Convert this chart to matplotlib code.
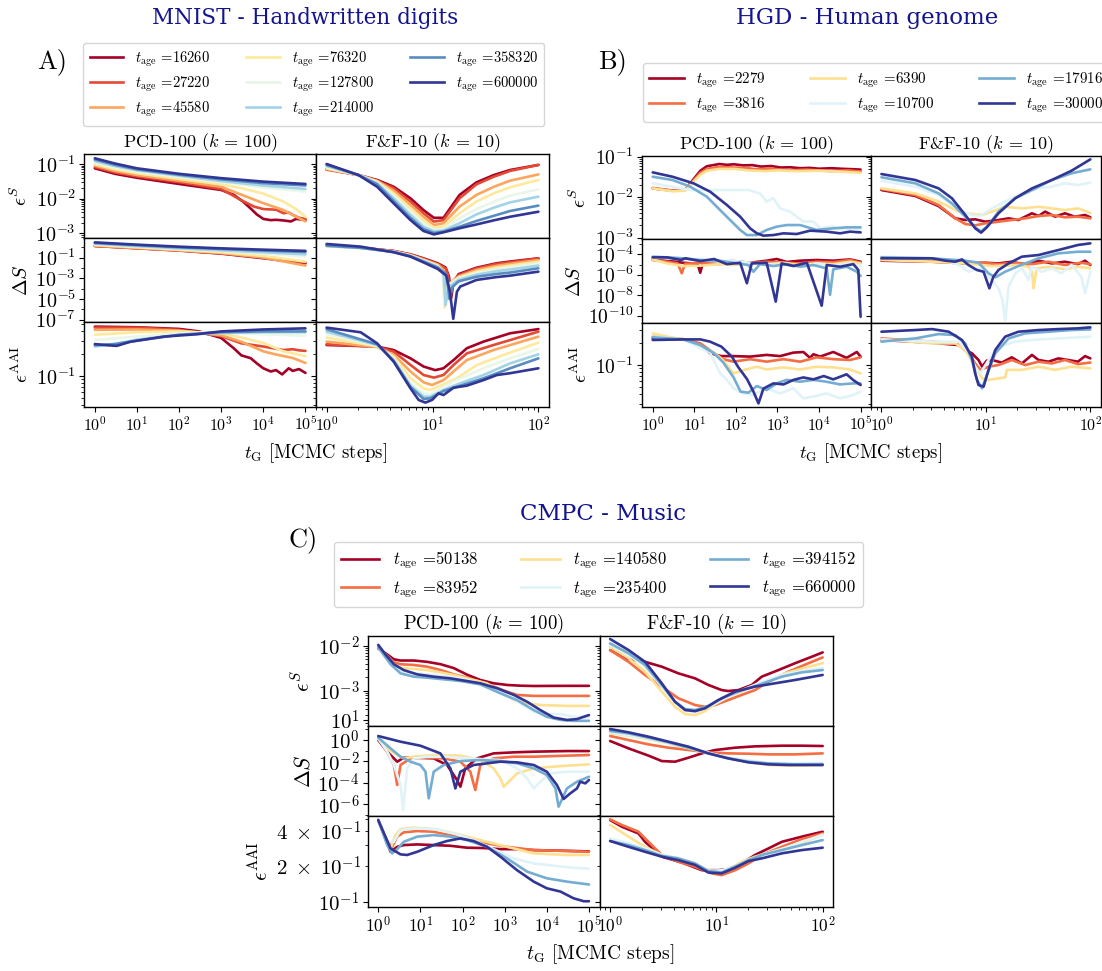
import numpy as np
import matplotlib
matplotlib.use("Agg")
import matplotlib.pyplot as plt
from matplotlib import ticker
from matplotlib.lines import Line2D
from matplotlib.transforms import Affine2D

plt.rcParams.update({
    "font.family": "serif",
    "font.serif": ["cmr10"],
    "mathtext.fontset": "cm",
    "axes.unicode_minus": False,
    "axes.formatter.use_mathtext": True,
})

W, H = 1102, 971
LW = 1.9

# ============================ MNIST ============================
mnist_ages = [16260, 27220, 45580, 76320, 127800, 214000, 358320, 600000]

# PCD-100: (t_G, value) pairs, one list per t_age
mnist_pcd_eS = [
    [(1, 7.5e-2), (3, 5.2e-2), (10, 4.0e-2), (100, 2.65e-2), (1e3, 1.78e-2), (2e3, 1.28e-2), (3.3e3, 8.2e-3),
     (5e3, 5.2e-3), (7e3, 3.5e-3), (1e4, 2.6e-3), (1.5e4, 2.4e-3), (2e4, 2.45e-3), (3e4, 2.35e-3),
     (4.5e4, 2.2e-3), (6e4, 2.6e-3), (8e4, 2.5e-3), (1e5, 2.4e-3)],
    [(1, 8.2e-2), (3, 5.7e-2), (10, 4.4e-2), (100, 3.0e-2), (1e3, 1.9e-2), (3e3, 9.0e-3), (6e3, 5.9e-3),
     (1e4, 5.0e-3), (2e4, 4.8e-3), (3e4, 3.8e-3), (4e4, 4.0e-3), (5e4, 3.4e-3), (7e4, 2.8e-3), (1e5, 2.6e-3)],
    [(1, 9.0e-2), (3, 6.3e-2), (10, 4.8e-2), (100, 3.3e-2), (1e3, 2.2e-2), (3e3, 1.3e-2), (1e4, 7.4e-3),
     (3e4, 4.7e-3), (6e4, 3.0e-3), (1e5, 2.2e-3)],
    [(1, 9.8e-2), (3, 7.0e-2), (10, 5.4e-2), (100, 3.7e-2), (1e3, 2.6e-2), (3e3, 2.0e-2), (1e4, 1.4e-2),
     (3e4, 8.2e-3), (6e4, 5.0e-3), (1e5, 3.0e-3)],
    [(1, 0.109), (3, 7.8e-2), (10, 6.0e-2), (100, 4.2e-2), (1e3, 3.0e-2), (1e4, 2.1e-2), (1e5, 1.6e-2)],
    [(1, 0.122), (3, 8.7e-2), (10, 6.6e-2), (100, 4.6e-2), (1e3, 3.2e-2), (1e4, 2.4e-2), (1e5, 1.9e-2)],
    [(1, 0.135), (3, 9.5e-2), (10, 7.0e-2), (100, 4.9e-2), (1e3, 3.6e-2), (1e4, 2.8e-2), (1e5, 2.4e-2)],
    [(1, 0.146), (3, 0.103), (10, 7.5e-2), (100, 5.2e-2), (1e3, 3.9e-2), (1e4, 3.1e-2), (1e5, 2.65e-2)],
]
mnist_pcd_dS = [
    [(1, 1.35), (10, 0.8), (100, 0.48), (1e3, 0.245), (1e4, 0.087), (3e4, 0.05), (1e5, 0.028)],
    [(1, 1.35), (10, 0.83), (100, 0.51), (1e3, 0.26), (1e4, 0.107), (1e5, 0.035)],
    [(1, 1.45), (10, 0.85), (100, 0.51), (1e3, 0.28), (1e4, 0.10), (1e5, 0.017)],
    [(1, 1.7), (10, 1.0), (100, 0.59), (1e3, 0.33), (1e4, 0.145), (1e5, 0.041)],
    [(1, 1.95), (10, 1.15), (100, 0.69), (1e3, 0.45), (1e4, 0.25), (1e5, 0.135)],
    [(1, 2.2), (10, 1.3), (100, 0.79), (1e3, 0.51), (1e4, 0.33), (1e5, 0.21)],
    [(1, 2.6), (10, 1.6), (100, 1.0), (1e3, 0.69), (1e4, 0.48), (1e5, 0.35)],
    [(1, 3.0), (10, 1.8), (100, 1.15), (1e3, 0.79), (1e4, 0.59), (1e5, 0.45)],
]
mnist_pcd_aai = [
    [(1, 0.464), (10, 0.455), (100, 0.432), (300, 0.40), (1e3, 0.326), (2e3, 0.236), (3e3, 0.19), (5e3, 0.174),
     (7e3, 0.148), (1e4, 0.127), (1.5e4, 0.115), (2e4, 0.12), (2.8e4, 0.105), (4e4, 0.127), (5e4, 0.117),
     (7e4, 0.124), (1e5, 0.11)],
    [(1, 0.45), (10, 0.45), (100, 0.42), (1e3, 0.345), (3e3, 0.276), (1e4, 0.25), (3e4, 0.224), (5e4, 0.23),
     (7e4, 0.222), (1e5, 0.218)],
    [(1, 0.42), (10, 0.425), (100, 0.41), (1e3, 0.355), (3e3, 0.29), (1e4, 0.215), (2e4, 0.195), (5e4, 0.175),
     (1e5, 0.15)],
    [(1, 0.36), (10, 0.39), (100, 0.40), (1e3, 0.38), (3e3, 0.33), (1e4, 0.28), (3e4, 0.215), (1e5, 0.186)],
    [(1, 0.306), (10, 0.34), (100, 0.377), (1e3, 0.39), (1e4, 0.366), (1e5, 0.35)],
    [(1, 0.25), (3, 0.27), (10, 0.31), (100, 0.36), (1e3, 0.38), (1e4, 0.39), (1e5, 0.39)],
    [(1, 0.26), (3, 0.27), (10, 0.30), (100, 0.36), (1e3, 0.39), (1e4, 0.40), (1e5, 0.40)],
    [(1, 0.27), (2, 0.26), (3.3, 0.255), (7, 0.29), (43, 0.34), (260, 0.366), (1e3, 0.40), (1e4, 0.425),
     (1e5, 0.44)],
]

# F&F-10
mnist_ff_eS_t = [1, 2, 3, 4.3, 6.2, 8.2, 10.3, 12.7, 18, 26, 38, 54, 100]
mnist_ff_eS = [
    [0.072, 0.048, 0.0346, 0.022, 0.0102, 0.0047, 0.0028, 0.0028, 0.0128, 0.0295, 0.048, 0.067, 0.094],
    [0.0687, 0.048, 0.033, 0.020, 0.0082, 0.0038, 0.00218, 0.0024, 0.0102, 0.0259, 0.043, 0.063, 0.094],
    [0.0718, 0.048, 0.0325, 0.017, 0.0066, 0.003, 0.00174, 0.00195, 0.0059, 0.0128, 0.022, 0.033, 0.05],
    [0.075, 0.048, 0.031, 0.0143, 0.0052, 0.0024, 0.00145, 0.00155, 0.0038, 0.0082, 0.0143, 0.0212, 0.0346],
    [0.080, 0.048, 0.0295, 0.0122, 0.0042, 0.00195, 0.00128, 0.00133, 0.0027, 0.005, 0.0082, 0.0122, 0.0186],
    [0.0875, 0.048, 0.0277, 0.0102, 0.0034, 0.00155, 0.00114, 0.0012, 0.00195, 0.0035, 0.0055, 0.0078, 0.0114],
    [0.094, 0.048, 0.0259, 0.0086, 0.0028, 0.00133, 0.00102, 0.00112, 0.00155, 0.00227, 0.0032, 0.0044, 0.0063],
    [0.1, 0.048, 0.022, 0.0073, 0.0024, 0.00117, 0.00093, 0.00107, 0.0014, 0.0018, 0.00237, 0.003, 0.0042],
]
mnist_ff_dS = [
    [(1, 1.45), (2.1, 0.93), (4.3, 0.44), (6.2, 0.21), (8.2, 0.086), (11.2, 0.028), (13.3, 0.011), (14.3, 1.5e-3),
     (15.0, 1.2e-5), (15.7, 3e-4), (17.6, 2.5e-3), (26, 1.05e-2), (40, 2.8e-2), (54, 4.2e-2), (100, 8.6e-2)],
    [(1, 1.4), (2.1, 0.9), (4.3, 0.42), (6.2, 0.19), (8.2, 0.075), (11.2, 0.024), (13.3, 0.009), (14.0, 2e-3),
     (14.6, 2.5e-5), (15.3, 4e-4), (17.6, 2.0e-3), (26, 9e-3), (40, 2.4e-2), (54, 3.6e-2), (100, 8.0e-2)],
    [(1, 1.35), (2.1, 0.88), (4.3, 0.4), (6.2, 0.18), (8.2, 0.066), (11.2, 0.021), (12.8, 0.006), (13.8, 1.0e-5),
     (14.6, 3e-4), (17.6, 1.5e-3), (26, 6.5e-3), (40, 1.6e-2), (54, 2.5e-2), (100, 5.9e-2)],
    [(1, 1.3), (2.1, 0.85), (4.3, 0.38), (6.2, 0.165), (8.2, 0.058), (11.2, 0.017), (12.5, 0.004), (13.0, 1.5e-6),
     (13.8, 2e-4), (17.6, 1.2e-3), (26, 4.5e-3), (40, 1.1e-2), (54, 1.7e-2), (100, 4.1e-2)],
    [(1, 1.3), (2.1, 0.84), (4.3, 0.37), (6.2, 0.155), (8.2, 0.052), (11.2, 0.015), (12.5, 0.0035), (13.0, 4e-6),
     (13.8, 1.5e-4), (17.6, 1.0e-3), (26, 3.2e-3), (40, 7.5e-3), (54, 1.15e-2), (100, 2.8e-2)],
    [(1, 1.35), (2.1, 0.85), (4.3, 0.36), (6.2, 0.145), (8.2, 0.047), (11.2, 0.013), (12.7, 0.003), (13.3, 2.6e-6),
     (14.0, 1.2e-4), (17.6, 7e-4), (26, 2.2e-3), (40, 4.8e-3), (54, 7e-3), (100, 1.68e-2)],
    [(1, 1.45), (2.1, 0.9), (4.3, 0.35), (6.2, 0.135), (8.2, 0.042), (11.2, 0.011), (13.5, 0.0025), (14.5, 1e-5),
     (15.5, 1.5e-4), (17.6, 5e-4), (26, 1.4e-3), (40, 2.6e-3), (54, 3.6e-3), (100, 9.3e-3)],
    [(1, 2.1), (2.1, 1.16), (4.3, 0.33), (6.2, 0.125), (8.2, 0.035), (11.2, 0.008), (13.5, 0.0018), (14.6, 5e-5),
     (15.7, 1.2e-7), (17.0, 5e-5), (18.3, 1.6e-4), (26, 6.9e-4), (40, 1.3e-3), (54, 1.8e-3), (100, 4.4e-3)],
]
mnist_ff_aai = [
    [(1, 0.262), (2.1, 0.254), (3, 0.249), (4.3, 0.224), (6.2, 0.173), (8.25, 0.134), (10.6, 0.12), (12.7, 0.127),
     (15.8, 0.164), (21.1, 0.237), (30.3, 0.291), (54, 0.377), (100, 0.43)],
    [(1, 0.268), (3, 0.249), (4.3, 0.213), (6.2, 0.141), (8.25, 0.103), (10.3, 0.095), (12.7, 0.103),
     (15.8, 0.141), (21.1, 0.202), (37.7, 0.262), (100, 0.397)],
    [(1, 0.291), (3, 0.246), (4.3, 0.192), (6.2, 0.115), (8.25, 0.082), (9.9, 0.0755), (12.7, 0.088),
     (15.8, 0.115), (21.1, 0.164), (37.7, 0.224), (100, 0.34)],
    [(1, 0.33), (3, 0.251), (4.3, 0.183), (6.2, 0.093), (8.25, 0.068), (9.55, 0.0647), (12.7, 0.077),
     (17, 0.093), (26.3, 0.141), (46.8, 0.192), (100, 0.282)],
    [(1, 0.366), (3, 0.257), (4.3, 0.173), (6.2, 0.080), (8.25, 0.0583), (9.55, 0.0565), (12.7, 0.0718),
     (18.3, 0.093), (30.3, 0.127), (54, 0.173), (100, 0.232)],
    [(1, 0.397), (3, 0.262), (4.3, 0.164), (6.2, 0.074), (8.25, 0.0526), (9.55, 0.0526), (12.7, 0.0647),
     (18.3, 0.080), (30.3, 0.103), (54, 0.148), (100, 0.196)],
    [(1, 0.428), (3, 0.268), (4.3, 0.16), (6.2, 0.071), (8.25, 0.0489), (9.55, 0.05), (12.7, 0.0627),
     (18.3, 0.074), (30.3, 0.093), (54, 0.127), (100, 0.173)],
    [(1, 0.45), (2.1, 0.389), (3, 0.276), (4.3, 0.156), (6.2, 0.068), (7.4, 0.0474), (8.56, 0.0437), (9.9, 0.0474),
     (11.4, 0.0583), (12.7, 0.0553), (15.8, 0.0695), (21.1, 0.074), (30.3, 0.088), (40.5, 0.103), (54, 0.109),
     (100, 0.127)],
]

# ============================ HGD ============================
hgd_ages = [2279, 3816, 6390, 10700, 17916, 30000]

hgd_pcd_eS = [
    [(1, 0.0165), (3, 0.0145), (6, 0.015), (8, 0.022), (14, 0.045), (20, 0.058), (40, 0.066), (60, 0.063),
     (90, 0.065), (150, 0.061), (250, 0.062), (400, 0.057), (700, 0.059), (1200, 0.054), (2000, 0.055),
     (3500, 0.052), (6000, 0.053), (1e4, 0.0505), (2e4, 0.052), (4e4, 0.05), (7e4, 0.049), (1e5, 0.048)],
    [(1, 0.017), (3, 0.0145), (6, 0.015), (8, 0.021), (14, 0.040), (20, 0.050), (40, 0.056), (90, 0.054),
     (200, 0.052), (300, 0.049), (500, 0.050), (700, 0.051), (1000, 0.049), (2000, 0.046), (3000, 0.047),
     (5000, 0.048), (1e4, 0.046), (2e4, 0.044), (3e4, 0.045), (5e4, 0.046), (1e5, 0.043)],
    [(1, 0.0165), (3, 0.014), (6, 0.0145), (8, 0.020), (14, 0.036), (20, 0.045), (40, 0.050), (90, 0.050),
     (200, 0.046), (500, 0.044), (1000, 0.046), (3000, 0.044), (1e4, 0.045), (3e4, 0.043), (1e5, 0.040)],
    [(1, 0.022), (3, 0.018), (8, 0.015), (30, 0.015), (100, 0.015), (200, 0.015), (380, 0.0124), (550, 0.0078),
     (800, 0.0094), (1160, 0.0053), (2000, 0.0044), (2900, 0.0033), (4200, 0.0025), (7300, 0.0025),
     (1.06e4, 0.0017), (2.2e4, 0.0019), (3.2e4, 0.0016), (6.7e4, 0.0017), (1e5, 0.0016)],
    [(1, 0.032), (3, 0.0266), (8, 0.0182), (20, 0.0103), (50, 0.004), (127, 0.00155), (184, 0.00116),
     (320, 0.00116), (550, 0.00155), (960, 0.00187), (1680, 0.00205), (3500, 0.00205), (8800, 0.00155),
     (2.2e4, 0.0017), (4.6e4, 0.0018), (1e5, 0.0018)],
    [(1, 0.041), (3, 0.032), (9.6, 0.022), (24, 0.0137), (61, 0.0064), (127, 0.0033), (220, 0.0017),
     (320, 0.00128), (460, 0.00112), (800, 0.00116), (1400, 0.00128), (2900, 0.00123), (6100, 0.00149),
     (1.5e4, 0.00141), (3.2e4, 0.00128), (5.6e4, 0.00141), (1e5, 0.00135)],
]
hgd_pcd_dS = [
    [(1, 3.5e-5), (2.2, 2.4e-5), (5.5, 1.5e-5), (12, 1.2e-5), (13.9, 1.6e-6), (16, 1.3e-5), (40, 1.9e-5),
     (88, 2.2e-5), (220, 1.5e-5), (550, 2.4e-5), (960, 3.5e-5), (1680, 1.8e-5), (3500, 2.4e-5), (8800, 2.8e-5),
     (2.2e4, 2.4e-5), (5.6e4, 3.2e-5), (1e5, 1.9e-5)],
    [(1, 2.8e-5), (2.2, 1.9e-5), (4, 1.3e-5), (5, 1.4e-6), (6, 1.2e-5), (14, 1.5e-5), (40, 1.1e-5), (88, 1.9e-5),
     (220, 1.3e-5), (550, 1.9e-5), (1400, 1.5e-5), (3500, 1.3e-5), (8800, 1.9e-5), (2.2e4, 1.7e-5),
     (5.6e4, 2.8e-5), (1e5, 1.5e-5)],
    [(1, 3.2e-5), (2.2, 1.3e-5), (5.5, 7.2e-6), (14, 7.8e-6), (40, 1.1e-5), (88, 9e-6), (220, 1.3e-5),
     (550, 1.1e-5), (1400, 1.5e-5), (3500, 9e-6), (8800, 1.3e-5), (2.2e4, 1.1e-5), (5.6e4, 1.9e-5),
     (1e5, 1.3e-5)],
    [(1, 5.1e-5), (2.2, 4.1e-5), (5.5, 3.5e-5), (14, 2.8e-5), (40, 1.9e-5), (88, 2.4e-5), (220, 1.5e-5),
     (550, 1.1e-5), (1400, 9e-6), (3500, 7e-6), (8800, 1.3e-5), (2.2e4, 8e-6), (5.6e4, 1.3e-5), (1e5, 7e-6)],
    [(1, 5.9e-5), (2.2, 5.1e-5), (5.5, 4.1e-5), (14, 2.8e-5), (40, 2.4e-5), (88, 1.5e-5), (200, 9e-6),
     (265, 2.0e-6), (380, 1.1e-5), (800, 7.2e-6), (1680, 1.1e-5), (3500, 6.2e-6), (7300, 9e-6), (1.53e4, 4.3e-6),
     (1.84e4, 1.1e-8), (2.2e4, 3.4e-6), (4.6e4, 6.2e-6), (8.1e4, 2.0e-6), (1e5, 7.6e-7)],
    [(1, 5.1e-5), (2.2, 5.1e-5), (4.8, 2.8e-5), (6.1, 4.1e-5), (14, 2.2e-5), (30, 3.5e-5), (61, 1.1e-5),
     (127, 1.5e-5), (184, 1.5e-7), (240, 1.3e-5), (550, 1.5e-5), (910, 2.4e-9), (1260, 1.3e-5), (2430, 7.2e-6),
     (5100, 1.5e-5), (1.16e4, 9.6e-10), (1.53e4, 9.1e-6), (3.2e4, 6.2e-6), (6.7e4, 1.1e-5), (8.8e4, 3.0e-6),
     (1e5, 8e-11)],
]
hgd_pcd_aai = [
    [(1, 0.229), (5.5, 0.222), (14, 0.192), (24, 0.144), (45, 0.132), (88, 0.132), (220, 0.13), (550, 0.137),
     (1160, 0.132), (2400, 0.147), (4200, 0.15), (6100, 0.125), (7300, 0.14), (1.06e4, 0.13), (2.2e4, 0.15),
     (4.6e4, 0.125), (8.1e4, 0.15), (1e5, 0.13)],
    [(1, 0.242), (5.5, 0.224), (14, 0.196), (30, 0.144), (50, 0.12), (88, 0.111), (220, 0.12), (550, 0.111),
     (1400, 0.12), (3500, 0.111), (8800, 0.127), (2.2e4, 0.12), (5.6e4, 0.117), (1e5, 0.127)],
    [(1, 0.268), (2.2, 0.242), (5.5, 0.222), (14, 0.177), (30, 0.147), (50, 0.115), (88, 0.077), (160, 0.086),
     (320, 0.095), (550, 0.087), (1400, 0.093), (3500, 0.087), (8800, 0.095), (2.2e4, 0.093), (5.6e4, 0.087),
     (1e5, 0.077)],
    [(1, 0.242), (5.5, 0.222), (14, 0.168), (24, 0.147), (42, 0.077), (61, 0.063), (88, 0.0484), (150, 0.0414),
     (260, 0.0394), (550, 0.0484), (1160, 0.0414), (2400, 0.0484), (4200, 0.0355), (7300, 0.0374),
     (1.5e4, 0.0414), (3.2e4, 0.0355), (6.7e4, 0.0394), (1e5, 0.0437)],
    [(1, 0.237), (5.5, 0.222), (14, 0.186), (30, 0.144), (50, 0.108), (88, 0.068), (130, 0.0437), (200, 0.0423),
     (320, 0.052), (550, 0.046), (960, 0.0565), (1680, 0.063), (3500, 0.0595), (7300, 0.063), (1.5e4, 0.0595),
     (3.2e4, 0.0547), (6.7e4, 0.0565), (1e5, 0.0565)],
    [(1, 0.218), (5.5, 0.222), (14, 0.222), (24, 0.207), (45, 0.177), (80, 0.13), (115, 0.093), (184, 0.065),
     (265, 0.0437), (350, 0.0303), (460, 0.048), (800, 0.0565), (1400, 0.0547), (2430, 0.063), (4200, 0.068),
     (7300, 0.064), (1.3e4, 0.071), (2.2e4, 0.064), (4.6e4, 0.075), (6.7e4, 0.0625), (1e5, 0.0537)],
]

hgd_ff_eS = [
    [(1, 0.015), (2.11, 0.0107), (3.53, 0.006), (5.1, 0.003), (6.35, 0.00273), (7.9, 0.00284), (9.85, 0.00248),
     (13.2, 0.00273), (16.5, 0.003), (20.5, 0.00273), (27.6, 0.004), (31.9, 0.00343), (36.9, 0.0044),
     (46, 0.0033), (57, 0.004), (71, 0.0033), (89, 0.00363), (100, 0.00318)],
    [(1, 0.0159), (2.11, 0.0113), (3.53, 0.0064), (5.1, 0.003), (6.35, 0.00217), (7.9, 0.00202), (9.85, 0.00226),
     (13.2, 0.00248), (17.7, 0.00273), (23.8, 0.003), (31.9, 0.00343), (42.8, 0.00363), (57, 0.00318),
     (76, 0.0033), (100, 0.003)],
    [(1, 0.0165), (2.11, 0.0124), (3.53, 0.0078), (5.5, 0.0044), (7.35, 0.00384), (9.2, 0.00363), (11.4, 0.0044),
     (15.3, 0.0058), (22.1, 0.0053), (31.9, 0.0058), (42.8, 0.0053), (57, 0.0048), (76, 0.0053), (100, 0.0041)],
    [(1, 0.0255), (2.11, 0.0182), (3.53, 0.0113), (5.5, 0.0048), (7.35, 0.00363), (8.83, 0.00343), (11.4, 0.0053),
     (15.3, 0.0078), (22.1, 0.0124), (31.9, 0.0165), (42.8, 0.0182), (57, 0.022), (76, 0.020), (100, 0.0228)],
    [(1, 0.031), (2.11, 0.022), (3.53, 0.0124), (4.73, 0.007), (6.35, 0.0033), (7.9, 0.0018), (9.0, 0.00141),
     (10.6, 0.00205), (13.2, 0.0044), (19.1, 0.0094), (27.6, 0.015), (42.8, 0.0266), (66, 0.039), (100, 0.0487)],
    [(1, 0.0373), (2.11, 0.0266), (3.53, 0.0165), (4.73, 0.0094), (6.35, 0.00363), (7.9, 0.0017), (9.0, 0.00133),
     (10.2, 0.0018), (13.2, 0.004), (19.1, 0.0094), (27.6, 0.0165), (42.8, 0.0266), (66, 0.045), (100, 0.086)],
]
hgd_ff_dS = [
    [(1, 2.4e-5), (3.05, 1.9e-5), (6.35, 1.3e-5), (9.85, 1.5e-5), (13.2, 1.3e-5), (17.7, 1.9e-5), (23.8, 9.1e-6),
     (31.9, 2.4e-5), (42.8, 1.3e-5), (57, 1.9e-5), (76, 1.1e-5), (89, 2.4e-5), (100, 9.1e-6)],
    [(1, 3.2e-5), (3.05, 2.4e-5), (6.35, 1.9e-5), (9.2, 1.5e-5), (13.2, 1.1e-5), (19.1, 1.5e-5), (27.6, 1.1e-5),
     (39.7, 1.9e-5), (57, 9.1e-6), (82, 1.5e-5), (100, 1.1e-5)],
    [(1, 2.8e-5), (3.05, 1.9e-5), (6.35, 1.3e-5), (11.4, 7.2e-6), (20.5, 9.1e-6), (25.6, 6.2e-6), (27.6, 2.0e-6),
     (28.6, 4.8e-8), (30.6, 4.3e-6), (39.7, 6.2e-6), (57, 3.4e-6), (76, 6.2e-6), (100, 4.3e-6)],
    [(1, 5.9e-5), (3.05, 4.1e-5), (4.73, 1.9e-5), (5.9, 6.2e-6), (6.8, 2.0e-6), (8.5, 4.3e-6), (9.85, 2.0e-6),
     (11.4, 3.1e-7), (13.2, 4.8e-8), (14.4, 3.5e-9), (15.3, 3.8e-11), (16.5, 6.9e-8), (19.1, 1.4e-6),
     (22.1, 4.3e-6), (25.6, 3.1e-7), (27.6, 6.2e-6), (34.3, 2.0e-6), (42.8, 4.3e-6), (53, 1.4e-6), (66, 9.1e-6),
     (82, 6.6e-7), (89, 1.55e-8), (100, 2.0e-6)],
    [(1, 5.1e-5), (3.05, 4.1e-5), (6.35, 2.4e-5), (8.5, 1.5e-5), (10.6, 1.4e-6), (12.3, 5.7e-7), (15.3, 2.0e-6),
     (20.5, 7.2e-6), (31.9, 4.1e-5), (49.5, 1.25e-4), (76, 1.8e-4), (100, 1.8e-4)],
    [(1, 4.1e-5), (2.11, 4.1e-5), (3.05, 4.1e-5), (4.08, 2.4e-5), (5.1, 1.9e-5), (5.9, 3.2e-5), (6.8, 9.1e-6),
     (8.2, 2.95e-6), (9.5, 2.0e-6), (10.8, 4.8e-8), (11.8, 6.6e-7), (13.2, 2.95e-6), (16.5, 1.3e-5),
     (22.1, 5.9e-5), (31.9, 8.6e-5), (49.5, 2.65e-4), (76, 8.2e-4), (100, 1.19e-3)],
]
hgd_ff_aai = [
    [(1, 0.218), (3.05, 0.2), (5.5, 0.186), (6.35, 0.16), (7.35, 0.144), (8.5, 0.117), (9.2, 0.095), (10.2, 0.115),
     (11.4, 0.117), (14.2, 0.108), (17.7, 0.127), (22.1, 0.105), (27.6, 0.137), (31.9, 0.117), (39.7, 0.111),
     (49.5, 0.123), (61, 0.117), (76, 0.111), (89, 0.132), (100, 0.123)],
    [(1, 0.229), (3.05, 0.207), (5.5, 0.196), (6.8, 0.144), (7.9, 0.105), (8.83, 0.086), (10.6, 0.095),
     (13.2, 0.1), (17.7, 0.117), (23.8, 0.1), (31.9, 0.111), (42.8, 0.105), (57, 0.117), (76, 0.103), (100, 0.108)],
    [(1, 0.222), (3.05, 0.196), (5.1, 0.196), (6.35, 0.16), (7.9, 0.095), (9.2, 0.066), (10.6, 0.063),
     (13.2, 0.066), (15.3, 0.068), (15.9, 0.086), (22.1, 0.086), (31.9, 0.095), (46, 0.086), (66, 0.095),
     (100, 0.09)],
    [(1, 0.222), (3.05, 0.207), (5.5, 0.207), (6.8, 0.151), (7.9, 0.095), (8.83, 0.077), (10.6, 0.117),
     (13.2, 0.177), (19.1, 0.207), (27.6, 0.218), (49.5, 0.229), (100, 0.242)],
    [(1, 0.207), (2.11, 0.229), (3.53, 0.262), (5.1, 0.254), (6.35, 0.196), (7.35, 0.117), (8.2, 0.063),
     (9.2, 0.0484), (10.2, 0.073), (12.3, 0.144), (16.5, 0.229), (23.8, 0.268), (39.7, 0.282), (66, 0.297),
     (100, 0.303)],
    [(1, 0.282), (2.11, 0.297), (3.05, 0.306), (4.4, 0.282), (5.9, 0.218), (7.35, 0.13), (7.9, 0.077),
     (8.5, 0.0537), (9.5, 0.051), (10.6, 0.086), (12.3, 0.16), (15.3, 0.242), (20.5, 0.282), (31.9, 0.297),
     (49.5, 0.306), (76, 0.313), (100, 0.323)],
]

# ============================ CMPC ============================
cmpc_ages = [50138, 83952, 140580, 235400, 394152, 660000]

cmpc_pcd_eS = [
    [(1, 0.0087), (1.63, 0.0064), (2.35, 0.005), (3.38, 0.0047), (7, 0.0047), (14.4, 0.0044), (30, 0.0039),
     (62, 0.0032), (127, 0.0023), (264, 0.00175), (548, 0.00148), (1137, 0.00136), (2360, 0.00131),
     (4900, 0.00129), (3e4, 0.0013), (1e5, 0.0013)],
    [(1, 0.009), (1.63, 0.006), (2.35, 0.0043), (3.38, 0.0039), (7, 0.00375), (14.4, 0.00344), (30, 0.0029),
     (62, 0.00233), (127, 0.00197), (264, 0.0016), (548, 0.00125), (1137, 0.00097), (1970, 0.00082),
     (4900, 0.00078), (3e4, 0.00078), (1e5, 0.00078)],
    [(1, 0.0093), (1.63, 0.0057), (2.35, 0.0039), (3.38, 0.00327), (7, 0.00306), (14.4, 0.0029), (30, 0.00258),
     (62, 0.00226), (127, 0.0019), (380, 0.00148), (789, 0.00097), (1640, 0.00063), (3400, 0.00053),
     (7000, 0.00049), (3e4, 0.00047), (1e5, 0.00047)],
    [(1, 0.0097), (1.63, 0.0054), (2.35, 0.00344), (3.38, 0.00276), (7, 0.00245), (14.4, 0.00233), (30, 0.00218),
     (89, 0.0019), (264, 0.00148), (789, 0.00097), (2360, 0.00053), (4900, 0.00035), (1e4, 0.00031),
     (2.1e4, 0.00031), (4.3e4, 0.00027), (1e5, 0.00026)],
    [(1, 0.0093), (1.36, 0.0062), (1.96, 0.0039), (3.38, 0.00245), (7, 0.00207), (14.4, 0.00197), (30, 0.00184),
     (89, 0.00166), (264, 0.0014), (789, 0.00089), (1970, 0.00063), (4900, 0.00038), (1e4, 0.00027),
     (2.1e4, 0.00023), (4.3e4, 0.00022), (1e5, 0.00022)],
    [(1, 0.0104), (1.49, 0.0064), (2.35, 0.0039), (4, 0.0029), (8.4, 0.00233), (20.7, 0.00207), (51.5, 0.0019),
     (127, 0.00166), (264, 0.00148), (657, 0.00115), (1640, 0.00082), (3400, 0.00058), (7000, 0.00038),
     (1.45e4, 0.00026), (3e4, 0.00023), (5.2e4, 0.00024), (7.5e4, 0.00027), (1e5, 0.000295)],
]
cmpc_pcd_dS = [
    [(1, 1.0), (1.63, 0.082), (2.82, 0.0096), (4.05, 0.0226), (8.4, 0.0226), (20.7, 0.0196), (42.9, 0.0047),
     (74, 1.9e-4), (89, 4.5e-5), (116, 0.0023), (220, 0.0196), (548, 0.057), (1640, 0.071), (4900, 0.082),
     (3e4, 0.094), (1e5, 0.094)],
    [(1, 1.43), (1.63, 0.082), (2.35, 0.0047), (2.82, 6.4e-5), (3.38, 0.0047), (5.8, 0.0196), (14.4, 0.0226),
     (35.8, 0.0196), (89, 0.0096), (153, 0.00112), (201, 2.2e-5), (264, 0.0047), (548, 0.0196), (1640, 0.028),
     (4900, 0.028), (3e4, 0.035), (1e5, 0.04)],
    [(1, 1.24), (1.63, 0.167), (2.82, 0.04), (4.05, 0.0196), (7, 0.028), (20.7, 0.04), (89, 0.035),
     (264, 0.0137), (548, 0.0023), (789, 2.7e-4), (947, 4.5e-5), (1246, 1.3e-4), (1970, 7.8e-4), (4900, 0.0023),
     (1.45e4, 0.0033), (3e4, 0.0041), (1e5, 0.0054)],
    [(1, 1.43), (1.63, 0.082), (2.35, 0.0047), (3.38, 6.4e-5), (3.9, 3.0e-7), (4.85, 0.0023), (7, 0.0196),
     (14.4, 0.028), (35.8, 0.028), (127, 0.0196), (789, 0.0137), (1970, 0.0023), (3400, 2.7e-4), (4900, 3.1e-5),
     (7000, 1.3e-4), (1.2e4, 7.8e-4), (3e4, 0.00112), (1e5, 0.00112)],
    [(1, 1.65), (1.96, 0.167), (3.38, 0.028), (5.8, 0.0096), (10, 0.0047), (13.2, 0.00112), (15.8, 3.7e-6),
     (20.7, 0.00112), (35.8, 0.0047), (89, 0.011), (264, 0.0137), (789, 0.011), (1970, 0.0068), (4900, 0.0023),
     (1e4, 5.5e-4), (1.6e4, 3.1e-5), (1.9e4, 6.2e-7), (3e4, 3.1e-5), (5.2e4, 1.3e-4), (1e5, 3.8e-4)],
    [(1, 2.36), (3.38, 0.7), (10, 0.296), (29.8, 0.057), (51.5, 0.0023), (67.7, 3.1e-5), (89, 0.00112),
     (183, 0.0047), (789, 0.0096), (1970, 0.0083), (4900, 0.0047), (1e4, 0.00112), (1.74e4, 6.4e-5),
     (2.5e4, 3.2e-6), (3.6e4, 1.07e-5), (5.2e4, 3.1e-5), (6.2e4, 1.3e-4), (8.2e4, 9.2e-5), (1e5, 1.9e-4)],
]
cmpc_pcd_aai = [
    [(1, 0.492), (1.49, 0.344), (1.96, 0.265), (2.82, 0.292), (4.05, 0.302), (8.4, 0.306), (20.7, 0.302),
     (51.5, 0.298), (127, 0.287), (317, 0.285), (789, 0.279), (1970, 0.279), (4900, 0.274), (3e4, 0.27),
     (1e5, 0.267)],
    [(1, 0.492), (1.63, 0.322), (2.14, 0.292), (2.82, 0.356), (4.05, 0.387), (8.4, 0.397), (20.7, 0.392),
     (51.5, 0.367), (127, 0.344), (380, 0.312), (1137, 0.292), (4900, 0.274), (3e4, 0.269), (1e5, 0.265)],
    [(1, 0.492), (1.49, 0.344), (1.96, 0.283), (2.57, 0.367), (3.38, 0.413), (7, 0.424), (20.7, 0.413),
     (51.5, 0.387), (127, 0.356), (380, 0.322), (1137, 0.292), (4900, 0.257), (3e4, 0.249), (1e5, 0.249)],
    [(1, 0.492), (1.63, 0.322), (2.35, 0.322), (3.38, 0.405), (7, 0.418), (20.7, 0.413), (61.8, 0.379),
     (183, 0.333), (548, 0.279), (1640, 0.233), (4900, 0.211), (1.45e4, 0.202), (4.3e4, 0.194), (1e5, 0.191)],
    [(1, 0.492), (1.63, 0.302), (2.14, 0.257), (2.82, 0.279), (4.05, 0.322), (8.4, 0.356), (20.7, 0.367),
     (51.5, 0.356), (127, 0.333), (380, 0.292), (1137, 0.233), (3400, 0.18), (1e4, 0.158), (3e4, 0.148),
     (1e5, 0.14)],
    [(1, 0.492), (1.96, 0.283), (3.38, 0.252), (4.85, 0.249), (8.4, 0.265), (20.7, 0.302), (42.9, 0.327),
     (89, 0.344), (183, 0.327), (380, 0.292), (789, 0.241), (1970, 0.185), (4900, 0.148), (1e4, 0.13),
     (2.1e4, 0.122), (4.3e4, 0.107), (7.5e4, 0.101), (1e5, 0.101)],
]

cmpc_ff_eS = [
    [(1, 0.008), (1.29, 0.0057), (1.49, 0.0051), (2.13, 0.0044), (3.06, 0.00344), (4.39, 0.00245), (6.3, 0.0019),
     (8.4, 0.00136), (11.2, 0.00105), (12.9, 0.001), (16.1, 0.00105), (21.5, 0.00136), (26.7, 0.00207),
     (38.4, 0.0029), (55, 0.0041), (79, 0.0057), (100, 0.0071)],
    [(1, 0.008), (1.49, 0.0044), (2.13, 0.00226), (3.06, 0.00125), (4.39, 0.00069), (6.3, 0.00049),
     (7.8, 0.00045), (9.7, 0.00049), (12.9, 0.00063), (17.3, 0.00082), (23.1, 0.00105), (30.9, 0.0016),
     (47.7, 0.00267), (73.6, 0.0041), (100, 0.0055)],
    [(1, 0.0095), (1.49, 0.0053), (2.13, 0.00267), (3.06, 0.00097), (4.08, 0.00045), (5.08, 0.00031),
     (6.3, 0.000295), (7.8, 0.00036), (9.7, 0.00051), (12.9, 0.00075), (18.6, 0.00105), (28.7, 0.0016),
     (44.3, 0.00245), (68.4, 0.00327), (100, 0.0041)],
    [(1, 0.0104), (1.49, 0.0062), (2.13, 0.00344), (3.06, 0.00125), (4.08, 0.00056), (5.08, 0.00038),
     (6.3, 0.00034), (8.4, 0.00045), (11.2, 0.00063), (16.1, 0.00097), (24.9, 0.00148), (41.3, 0.00226),
     (63.7, 0.00276), (100, 0.00327)],
    [(1, 0.0112), (1.49, 0.0068), (2.13, 0.00375), (3.06, 0.00136), (4.08, 0.00058), (5.08, 0.0004),
     (6.3, 0.00038), (8.4, 0.00047), (11.2, 0.00069), (16.1, 0.00097), (24.9, 0.00136), (41.3, 0.00207),
     (63.7, 0.00258), (100, 0.0029)],
    [(1, 0.014), (1.49, 0.008), (2.13, 0.0044), (3.06, 0.00148), (4.08, 0.00058), (5.08, 0.00038), (6.3, 0.00036),
     (7.8, 0.000415), (10.4, 0.00063), (15, 0.00097), (23.1, 0.00125), (35.7, 0.00148), (55, 0.00175),
     (100, 0.00226)],
]
cmpc_ff_dS = [
    [(1, 0.81), (1.49, 0.167), (2.3, 0.035), (3.06, 0.011), (4.08, 0.0096), (5.46, 0.0226), (7.3, 0.057),
     (9.7, 0.117), (15, 0.193), (23.1, 0.257), (41.3, 0.296), (63.7, 0.296), (100, 0.276)],
    [(1, 2.36), (1.49, 1.0), (2.3, 0.39), (3.54, 0.193), (5.46, 0.117), (8.4, 0.071), (12.9, 0.057), (20, 0.053),
     (30.9, 0.046), (55, 0.046), (100, 0.057)],
    [(1, 4.2), (1.49, 2.54), (2.3, 1.24), (3.54, 0.49), (5.46, 0.167), (8.4, 0.057), (12.9, 0.0226), (20, 0.0096),
     (30.9, 0.0047), (55, 0.0041), (100, 0.0047)],
    [(1, 5.2), (2.3, 1.43), (5.46, 0.193), (12.9, 0.0226), (30.9, 0.0072), (100, 0.0062)],
    [(1, 6.9), (1.49, 4.2), (2.3, 1.65), (3.54, 0.61), (5.46, 0.193), (8.4, 0.057), (12.9, 0.0196), (20, 0.0096),
     (30.9, 0.0067), (55, 0.0054), (100, 0.0058)],
    [(1, 10.6), (1.49, 5.2), (2.3, 2.04), (3.54, 0.7), (5.46, 0.239), (8.4, 0.057), (12.9, 0.0196), (20, 0.0083),
     (30.9, 0.0054), (47.7, 0.0047), (100, 0.0047)],
]
cmpc_ff_aai = [
    [(1, 0.492), (1.29, 0.432), (1.85, 0.379), (2.13, 0.322), (3.06, 0.241), (4.72, 0.215), (7.3, 0.185),
     (10.4, 0.185), (12.9, 0.189), (17.3, 0.211), (23.1, 0.249), (30.9, 0.283), (41.3, 0.322), (63.7, 0.356),
     (100, 0.392)],
    [(1, 0.499), (1.29, 0.447), (1.85, 0.392), (2.13, 0.344), (3.06, 0.249), (4.39, 0.218), (6.3, 0.198),
     (9.0, 0.174), (11.2, 0.168), (15, 0.185), (20, 0.211), (26.7, 0.249), (41.3, 0.292), (63.7, 0.34),
     (100, 0.379)],
    [(1, 0.447), (1.49, 0.356), (2.13, 0.292), (3.06, 0.249), (4.39, 0.233), (6.3, 0.211), (8.4, 0.185),
     (10.4, 0.18), (12.9, 0.185), (17.3, 0.218), (23.1, 0.241), (33.2, 0.265), (47.7, 0.292), (68.4, 0.322),
     (100, 0.372)],
    [(1, 0.344), (1.49, 0.312), (2.13, 0.283), (3.06, 0.249), (4.39, 0.233), (6.3, 0.207), (8.4, 0.182),
     (11.2, 0.185), (15, 0.198), (20, 0.225), (26.7, 0.249), (41.3, 0.279), (63.7, 0.322), (100, 0.367)],
    [(1, 0.327), (1.49, 0.302), (2.13, 0.274), (3.06, 0.245), (4.39, 0.233), (6.3, 0.211), (8.4, 0.182),
     (11.2, 0.177), (15, 0.198), (20, 0.225), (26.7, 0.249), (41.3, 0.274), (63.7, 0.302), (100, 0.333)],
    [(1, 0.327), (1.49, 0.292), (2.13, 0.265), (3.06, 0.241), (4.39, 0.225), (6.3, 0.205), (8.4, 0.177),
     (11.2, 0.174), (15, 0.194), (20, 0.221), (26.7, 0.233), (41.3, 0.257), (63.7, 0.274), (100, 0.287)],
]

# ============================ drawing ============================
cmap = plt.get_cmap("RdYlBu")
colors8 = [cmap(v) for v in np.linspace(0, 1, 8)]
colors6 = [cmap(v) for v in np.linspace(0, 1, 6)]

fig = plt.figure(figsize=(W / 100, H / 100), dpi=100)


def add_ax(x0, y0, x1, y1):
    return fig.add_axes([x0 / W, 1 - y1 / H, (x1 - x0) / W, (y1 - y0) / H])


def label_formatter(mapping):
    def fmt(v, pos):
        if v <= 0:
            return ""
        return mapping.get(round(float(np.log10(v)), 2), "")
    return ticker.FuncFormatter(fmt)


def pow_labels(exps):
    return {float(e): rf"$10^{{{e}}}$" for e in exps}


def draw(ax, series, colors, grid=None):
    for s, c in zip(series, colors):
        if grid is None:
            t, v = zip(*s)
        else:
            t, v = grid, s
        ax.plot(t, v, color=c, lw=LW, solid_capstyle="round", solid_joinstyle="round")


def y_setup(ax, spec, show_labels):
    ax.set_yscale("log")
    lo, hi = spec["lim"]
    ax.set_ylim(10 ** lo, 10 ** hi)
    ax.yaxis.set_major_locator(ticker.FixedLocator(spec["major"]))
    if spec["minor"] == "subs":
        ax.yaxis.set_minor_locator(ticker.LogLocator(base=10, subs=np.arange(2, 10), numticks=100))
    else:
        ax.yaxis.set_minor_locator(ticker.FixedLocator(spec["minor"]))
    if show_labels:
        ax.yaxis.set_major_formatter(label_formatter(spec["labels"]))
        ax.yaxis.set_minor_formatter(label_formatter(spec.get("minor_labels", {})))
    else:
        ax.yaxis.set_major_formatter(ticker.NullFormatter())
        ax.yaxis.set_minor_formatter(ticker.NullFormatter())


def x_setup(ax, kind, bottom):
    ax.set_xscale("log")
    if kind == "pcd":
        ax.set_xlim(10 ** -0.25, 10 ** 5.25)
        ax.xaxis.set_major_locator(ticker.FixedLocator([1, 10, 100, 1e3, 1e4, 1e5]))
        ax.xaxis.set_minor_locator(ticker.NullLocator())
        labels = pow_labels(range(0, 6))
    else:
        ax.set_xlim(10 ** -0.1, 10 ** 2.1)
        ax.xaxis.set_major_locator(ticker.FixedLocator([1, 10, 100]))
        ax.xaxis.set_minor_locator(ticker.LogLocator(base=10, subs=np.arange(2, 10), numticks=100))
        labels = pow_labels(range(0, 3))
    ax.xaxis.set_minor_formatter(ticker.NullFormatter())
    if bottom:
        ax.xaxis.set_major_formatter(label_formatter(labels))
    else:
        ax.xaxis.set_major_formatter(ticker.NullFormatter())
        ax.tick_params(axis="x", which="both", bottom=False)


def build_panel(cols, rows, yspecs, data, colors, ylabels, fs, align=True, grids=None):
    grids = grids or {}
    left_axes, bottom_axes = [], []
    for r in range(3):
        for c in range(2):
            ax = add_ax(cols[c][0], rows[r][0], cols[c][1], rows[r][1])
            kind = "pcd" if c == 0 else "ff"
            draw(ax, data[r][c], colors, grids.get((r, c)))
            x_setup(ax, kind, r == 2)
            y_setup(ax, yspecs[r], c == 0)
            ax.tick_params(axis="x", which="both", labelsize=fs["xtick"], direction="out", pad=2.5)
            ax.tick_params(axis="y", which="both", labelsize=fs["ytick"], direction="out", pad=2.5)
            ax.tick_params(which="major", length=3.5, width=0.8)
            ax.tick_params(which="minor", length=2.0, width=0.6)
            for sp in ax.spines.values():
                sp.set_linewidth(1.0)
            if r == 0:
                ax.set_title("PCD-100 ($k$ = 100)" if c == 0 else "F&F-10 ($k$ = 10)",
                             fontsize=fs["coltitle"], pad=5)
            if c == 0:
                ax.set_ylabel(ylabels[r], fontsize=fs["ylabel"], labelpad=3)
                left_axes.append(ax)
            if r == 2:
                bottom_axes.append(ax)
    if align:
        fig.align_ylabels(left_axes)
    return bottom_axes


def nudge_xlabel(ax, value, dx):
    """Shift one x tick label sideways by dx display pixels."""
    for tick in ax.xaxis.get_major_ticks():
        if np.isclose(tick.get_loc(), value):
            lab = tick.label1
            lab.set_transform(lab.get_transform() + Affine2D().translate(dx, 0))


def add_legend(ages, colors, x0, y0, fontsize, colspace):
    handles = [Line2D([], [], color=c, lw=LW) for c in colors]
    labels = [rf"$t_{{\rm age}}$ ={a}" for a in ages]
    fig.legend(handles, labels, loc="upper left", bbox_to_anchor=(x0 / W, 1 - y0 / H),
               bbox_transform=fig.transFigure, ncol=3, fontsize=fontsize, handlelength=2.3,
               handletextpad=0.8, columnspacing=colspace, labelspacing=0.4, borderpad=0.45,
               borderaxespad=0, frameon=True, fancybox=True, edgecolor="#cccccc", framealpha=0.8)


ylabs = [r"$\epsilon^{S}$", r"$\Delta S$", r"$\epsilon^{\rm AAI}$"]

# ---- panel A ----
specA = [
    dict(lim=(-3.144, -0.712), major=[1e-3, 1e-2, 1e-1], minor="subs", labels=pow_labels([-3, -2, -1])),
    dict(lim=(-7.26, 0.871), major=[1e-7, 1e-5, 1e-3, 1e-1], minor=[1e-6, 1e-4, 1e-2, 1],
         labels=pow_labels([-7, -5, -3, -1])),
    dict(lim=(-1.423, -0.275), major=[1e-1], minor="subs", labels=pow_labels([-1])),
]
botA = build_panel(cols=[(84.3, 316), (316, 549)],
                   rows=[(154, 238.3), (238.3, 322.3), (322.3, 407.3)],
                   yspecs=specA,
                   data=[[mnist_pcd_eS, mnist_ff_eS], [mnist_pcd_dS, mnist_ff_dS],
                         [mnist_pcd_aai, mnist_ff_aai]],
                   colors=colors8, ylabels=ylabs, grids={(0, 1): mnist_ff_eS_t},
                   fs=dict(xtick=11.5, ytick=14.5, ylabel=14.5, coltitle=13))

# ---- panel B ----
specB = [
    dict(lim=(-3.033, -0.975), major=[1e-3, 1e-2, 1e-1], minor="subs", labels=pow_labels([-3, -2, -1])),
    dict(lim=(-10.68, -2.5), major=[1e-10, 1e-8, 1e-6, 1e-4], minor=[1e-9, 1e-7, 1e-5, 1e-3],
         labels=pow_labels([-10, -8, -6, -4])),
    dict(lim=(-1.563, -0.428), major=[1e-1], minor="subs", labels=pow_labels([-1])),
]
botB = build_panel(cols=[(642.3, 871), (871, 1100.8)],
                   rows=[(155.7, 239), (239, 322.7), (322.7, 406.7)],
                   yspecs=specB,
                   data=[[hgd_pcd_eS, hgd_ff_eS], [hgd_pcd_dS, hgd_ff_dS], [hgd_pcd_aai, hgd_ff_aai]],
                   colors=colors6, ylabels=ylabs,
                   fs=dict(xtick=11.5, ytick=14, ylabel=14.5, coltitle=13))

# ---- panel C ----
c1_labels = pow_labels([-3, -2])
c1_labels[round(float(np.log10(2.3e-4)), 2)] = r"$10^{1}$"
specC = [
    dict(lim=(-3.765, -1.787), major=[2.3e-4, 1e-3, 1e-2], minor="subs", labels=c1_labels),
    dict(lim=(-7.05, 1.335), major=[1e-6, 1e-4, 1e-2, 1], minor=[1e-7, 1e-5, 1e-3, 1e-1, 10],
         labels=pow_labels([-6, -4, -2, 0])),
    dict(lim=(-1.042, -0.271), major=[1e-1], minor="subs", labels=pow_labels([-1]),
         minor_labels={round(float(np.log10(0.2)), 2): r"$2\;\times\;10^{-1}$",
                       round(float(np.log10(0.4)), 2): r"$4\;\times\;10^{-1}$"}),
]
botC = build_panel(cols=[(367.7, 599.5), (599.5, 833.3)],
                   rows=[(636, 725.7), (725.7, 815.7), (815.7, 906.7)],
                   yspecs=specC,
                   data=[[cmpc_pcd_eS, cmpc_ff_eS], [cmpc_pcd_dS, cmpc_ff_dS], [cmpc_pcd_aai, cmpc_ff_aai]],
                   colors=colors6, ylabels=ylabs, align=False,
                   fs=dict(xtick=12.5, ytick=15, ylabel=15.5, coltitle=13.5))

# keep the 10^5 / 10^0 labels that meet at each column seam apart,
# and the last label of panel B inside the canvas
for left, right in (botA, botB, botC):
    nudge_xlabel(left, 1e5, -2.5)
    nudge_xlabel(right, 1, 2.5)
nudge_xlabel(botB[1], 100, -3)

# ---- legends ----
add_legend(mnist_ages, colors8, 83, 42.7, 10.5, 2.5)
add_legend(hgd_ages, colors6, 642.7, 63.3, 10.8, 3.0)
add_legend(cmpc_ages, colors6, 333.5, 542, 12, 2.6)

# ---- panel headings, letters and shared x labels ----
TITLE_KW = dict(ha="center", va="center", family="DejaVu Serif", color="#14148c")
fig.text(305 / W, 1 - 18 / H, "MNIST - Handwritten digits", fontsize=15.5, **TITLE_KW)
fig.text(867 / W, 1 - 18 / H, "HGD - Human genome", fontsize=16.5, **TITLE_KW)
fig.text(603 / W, 1 - 514 / H, "CMPC - Music", fontsize=16.5, **TITLE_KW)

for txt, x, y, s in [("A)", 52, 62, 19), ("B)", 613, 62, 19), ("C)", 303, 540, 19)]:
    fig.text(x / W, 1 - y / H, txt, ha="center", va="center", fontsize=s)

for x, y, s in [(316, 453, 13.5), (871, 453, 13.5), (600, 954, 14)]:
    fig.text(x / W, 1 - y / H, r"$t_{\rm G}$ [MCMC steps]", ha="center", va="center", fontsize=s)

fig.savefig("out.png", dpi=100)
